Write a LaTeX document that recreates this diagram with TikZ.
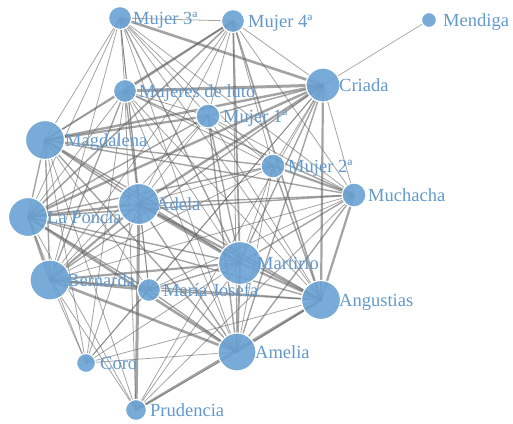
\documentclass[tikz,border=0pt]{standalone}
\usepackage{fontspec}
\setmainfont{Liberation Serif}
\definecolor{nodeblue}{RGB}{106,162,212}
\definecolor{labelblue}{RGB}{98,153,204}
\pgfdeclarelayer{edges}
\pgfsetlayers{edges,main}
\begin{document}
\begin{tikzpicture}[x=1pt,y=-1pt,
  ch/.style={circle, fill=nodeblue, fill opacity=0.9, draw=white, line width=1.2pt, inner sep=0pt, minimum size=#1},
  lab/.style={anchor=base west, text=labelblue, font=\fontsize{18.5}{18.5}\selectfont, inner sep=0pt},
  edge/.style={draw=black!62, opacity=0.58, line cap=round}]
\useasboundingbox (0,0) rectangle (513,423);
% nodes
\node[ch=23pt] (M3) at (120,18) {};
\node[ch=23pt] (M4) at (233,21) {};
\node[ch=15pt] (Men) at (429,20) {};
\node[ch=23pt] (ML) at (125,91) {};
\node[ch=34pt] (Cr) at (323,85) {};
\node[ch=24pt] (M1) at (208,116) {};
\node[ch=39pt] (Mag) at (45,140) {};
\node[ch=24pt] (M2) at (273,166) {};
\node[ch=24pt] (Much) at (354,195) {};
\node[ch=39pt] (Pon) at (28,217) {};
\node[ch=41pt] (Ade) at (139,204) {};
\node[ch=43pt] (Mar) at (240,263) {};
\node[ch=40pt] (Ber) at (50,280) {};
\node[ch=23pt] (MJ) at (149,290) {};
\node[ch=39pt] (Ang) at (321,300) {};
\node[ch=38pt] (Ame) at (237,352) {};
\node[ch=19pt] (Coro) at (86,363) {};
\node[ch=21pt] (Pru) at (136,410) {};
% labels
\node[lab] (lM3) at (133,24) {Mujer 3ª};
\node[lab] (lM4) at (248,27) {Mujer 4ª};
\node[lab] (lMen) at (443,26) {Mendiga};
\node[lab] (lML) at (139,97) {Mujeres de luto};
\node[lab] (lCr) at (339,91) {Criada};
\node[lab] (lM1) at (223,122) {Mujer 1ª};
\node[lab] (lMag) at (65,146) {Magdalena};
\node[lab] (lM2) at (288,172) {Mujer 2ª};
\node[lab] (lMuch) at (368,201) {Muchacha};
\node[lab] (lPon) at (47,223) {La Poncia};
\node[lab] (lAde) at (156,210) {Adela};
\node[lab] (lMar) at (257,269) {Martirio};
\node[lab] (lBer) at (67,286) {Bernarda};
\node[lab] (lMJ) at (163,296) {María Josefa};
\node[lab] (lAng) at (339,306) {Angustias};
\node[lab] (lAme) at (255,358) {Amelia};
\node[lab] (lCoro) at (100,369) {Coro};
\node[lab] (lPru) at (150,416) {Prudencia};
% edges
\begin{pgfonlayer}{edges}
\foreach \a/\b/\w in {
 Ber/Pon/2.2, Ber/Ade/2.2, Ber/Mar/2.2, Ber/Ang/1.4, Ber/Ame/2.6, Ber/Mag/1.4, Ber/Cr/1.4,
 Pon/Ade/2.2, Pon/Mar/1.4, Pon/Ang/1.4, Pon/Ame/2.6, Pon/Mag/1.4, Pon/Cr/2.4,
 Ade/Mar/3.0, Ade/Ang/2.2, Ade/Ame/1.4, Ade/Mag/1.4, Ade/Cr/2.4,
 Mar/Ang/2.2, Mar/Ame/2.2, Mar/Mag/1.4, Mar/Cr/1.4,
 Ang/Ame/1.6, Ang/Mag/1.4, Ang/Cr/2.2, Ame/Mag/1.4, Ame/Cr/1.4, Mag/Cr/2.4,
 M3/M4/0.8, M3/ML/0.8, M3/M1/0.8, M3/M2/0.8, M3/Cr/2.6, M3/Ber/0.8, M3/Pon/0.8, M3/Ade/0.8,
 M3/Mar/1.4, M3/Ang/0.8, M3/Ame/0.8, M3/Mag/0.8, M3/Much/0.8, M3/MJ/0.8,
 M4/ML/1.8, M4/M1/0.8, M4/M2/0.8, M4/Cr/0.8, M4/Ber/0.8, M4/Pon/1.6, M4/Ade/0.8, M4/Mar/1.8,
 M4/Ang/1.6, M4/Ame/0.8, M4/Mag/1.6, M4/Much/0.8,
 ML/M1/0.8, ML/M2/0.8, ML/Cr/3.0, ML/Ber/1.4, ML/Pon/0.8, ML/Ade/1.4, ML/Mar/0.8, ML/Ang/0.8,
 ML/Ame/0.8, ML/Mag/0.8, ML/Much/1.4, ML/Pru/0.8, ML/Coro/0.8,
 M1/M2/0.8, M1/Cr/1.4, M1/Ber/0.8, M1/Pon/1.4, M1/Ade/0.8, M1/Mar/1.4, M1/Ang/0.8, M1/Ame/1.4,
 M1/Mag/2.2, M1/Much/0.8,
 M2/Cr/0.8, M2/Ber/0.8, M2/Pon/1.4, M2/Ade/0.8, M2/Mar/0.8, M2/Ang/1.4, M2/Ame/0.8, M2/Mag/1.4,
 M2/Much/2.2,
 Much/Cr/0.8, Much/Ber/0.8, Much/Pon/1.4, Much/Ade/1.4, Much/Mar/1.4, Much/Ang/2.2, Much/Ame/1.4,
 Much/Mag/1.4, Much/Pru/0.8,
 MJ/Ber/2.4, MJ/Pon/1.4, MJ/Ade/0.8, MJ/Mar/1.4, MJ/Ang/1.4, MJ/Ame/1.4, MJ/Mag/0.8, MJ/Cr/0.8,
 MJ/Much/0.8, MJ/Coro/0.8,
 Coro/Ber/0.8, Coro/Pon/0.8, Coro/Mag/0.8, Coro/Ade/0.8, Coro/Mar/0.8, Coro/Ame/0.8, Coro/Ang/0.8, Coro/Cr/0.8,
 Pru/Ber/0.8, Pru/Pon/0.8, Pru/Mag/0.8, Pru/Ade/3.0, Pru/Mar/0.8, Pru/Ame/0.8, Pru/Ang/2.6, Pru/Cr/0.8,
 Men/Cr/0.7}
 \draw[edge, line width=\w pt] (\a.center) -- (\b.center);
\end{pgfonlayer}
\end{tikzpicture}
\end{document}
